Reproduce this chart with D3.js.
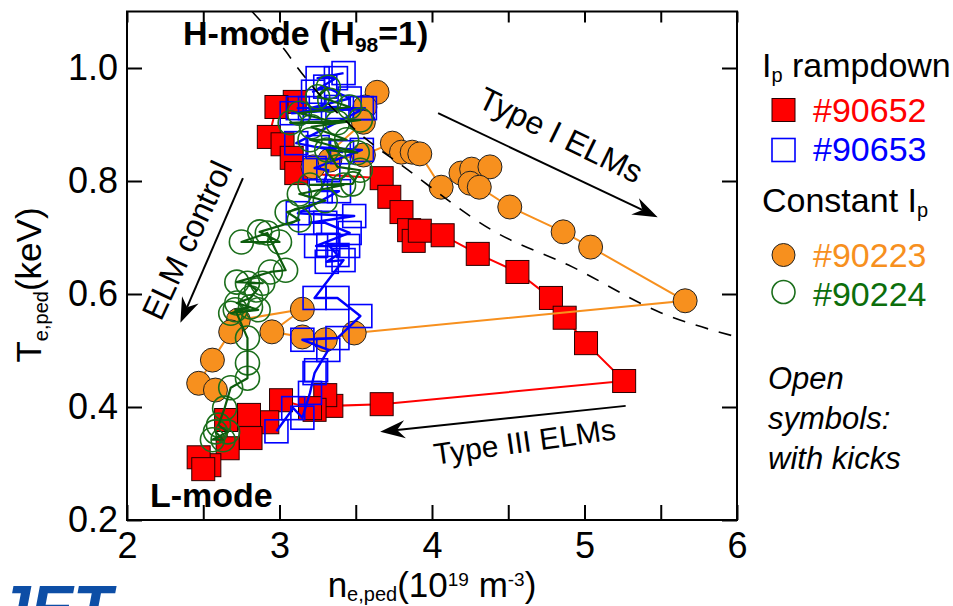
<!DOCTYPE html>
<html>
<head>
<meta charset="utf-8">
<script src="https://cdn.jsdelivr.net/npm/d3@7"></script>
<style>
html,body{margin:0;padding:0;background:#fff;}
svg{display:block;font-family:"Liberation Sans",Arial,Helvetica,sans-serif;}
</style>
</head>
<body>
<svg id="chart" width="953" height="606"></svg>
<script>
// Axis ticks
const xMajor = [2, 3, 4, 5, 6];
const xMinor = [2.5, 3.5, 4.5, 5.5];
const yTicks = [0.2, 0.4, 0.6, 0.8, 1.0];

// H98 = 1 boundary: [n_e,ped, T_e,ped]
const h98Curve = [[2.82,1.10],[3.04,1.03],[3.12,1.00],[3.50,0.89],[3.84,0.82],[4.40,0.712],[4.92,0.648],[5.50,0.567],[6.00,0.524]];

// #90652, Ip rampdown (filled squares), time ordered
const shot90652 = [
  [3.10,0.940],[2.98,0.931],[2.93,0.878],[3.02,0.865],[3.08,0.841],[3.11,0.814],
  [3.67,0.805],[3.72,0.772],[3.80,0.745],[3.85,0.713],[3.88,0.694],[3.92,0.712],[4.07,0.704],
  [4.30,0.671],[4.56,0.639],[4.78,0.593],[4.87,0.558],[5.01,0.513],[5.26,0.446],
  [3.67,0.405],[3.34,0.402],[3.30,0.421],[3.23,0.395],[3.20,0.398],[3.01,0.412],[2.92,0.373],
  [2.80,0.386],[2.81,0.345],[2.65,0.377],[2.66,0.327],[2.54,0.297],[2.47,0.311],[2.50,0.290]
];

// #90653, Ip rampdown with kicks (open squares)
const shot90653 = [
  [3.42,0.991],[3.25,0.982],[3.37,0.982],[3.22,0.958],[3.30,0.967],[3.46,0.946],[3.20,0.929],
  [3.54,0.929],[3.12,0.929],[3.38,0.931],[3.08,0.920],[3.56,0.929],[3.11,0.867],[3.41,0.851],
  [3.25,0.860],[3.54,0.855],[3.23,0.823],[3.32,0.819],
  [3.27,0.782],[3.39,0.782],[3.12,0.743],[3.49,0.738],[3.20,0.726],[3.30,0.726],[3.46,0.708],
  [3.24,0.685],[3.45,0.685],[3.32,0.687],[3.38,0.669],[3.31,0.657],[3.42,0.660],
  [3.23,0.593],[3.38,0.593],[3.53,0.561],[3.38,0.522],[3.15,0.519],[3.32,0.501],[3.24,0.465],
  [3.23,0.460],[3.20,0.425],[3.15,0.381],[3.09,0.398],[2.98,0.357]
];

// #90223, constant Ip (filled circles)
const shot90223 = [
  [3.64,0.957],[3.56,0.931],[3.55,0.904],[3.22,0.825],[3.33,0.837],[3.55,0.846],[3.74,0.867],
  [3.80,0.851],[3.87,0.851],[3.92,0.848],[4.06,0.789],[4.19,0.814],[4.26,0.821],[4.38,0.825],
  [4.25,0.796],[4.31,0.789],[4.51,0.754],[4.86,0.710],[5.04,0.683],[5.66,0.588],
  [3.49,0.531],[3.30,0.519],[3.15,0.524],[2.95,0.533],[3.15,0.573],[2.73,0.554],[2.68,0.533],
  [2.56,0.483],[2.47,0.442],[2.58,0.430]
];

// #90224, constant Ip with kicks (open circles)
const shot90224 = [
  [3.32,0.966],[3.25,0.949],[3.33,0.943],[3.46,0.931],[3.13,0.920],[3.38,0.903],[3.07,0.903],
  [3.53,0.908],[3.21,0.896],[3.44,0.873],[3.20,0.873],[3.51,0.850],[3.31,0.855],[3.38,0.825],
  [3.53,0.819],
  [3.48,0.795],[3.20,0.793],[3.42,0.793],[3.13,0.777],[3.30,0.765],[3.05,0.745],[3.13,0.731],
  [2.87,0.710],[3.00,0.692],[2.75,0.692],[2.92,0.708],[3.04,0.642],[2.94,0.639],[2.72,0.621],
  [2.89,0.619],[2.79,0.619],[2.85,0.607],[2.81,0.593],[2.72,0.584],[2.86,0.572],[2.68,0.566],
  [2.81,0.577],[2.71,0.572],
  [2.79,0.522],[2.79,0.478],[2.79,0.451],[2.68,0.434],[2.64,0.398],[2.60,0.368],[2.66,0.356],
  [2.56,0.342],[2.63,0.342],[2.58,0.356]
];

const RED = "#ff0000", BLUE = "#0000ff", ORANGE = "#f7901e", GREEN = "#1b6e1b", GREEN_LINE = "#0d5c0d";

const svg = d3.select("#chart");
const x = d3.scaleLinear().domain([2, 6]).range([127, 737]);
const y = d3.scaleLinear().domain([0.2, 1.1]).range([520, 11.5]);
const X0 = x(2), X1 = x(6), Y0 = y(1.1), Y1 = y(0.2);

svg.append("defs").append("clipPath").attr("id", "plotClip")
  .append("rect").attr("x", X0).attr("y", Y0).attr("width", X1 - X0).attr("height", Y1 - Y0);

const plot = svg.append("g").attr("clip-path", "url(#plotClip)");
const line = d3.line().x(d => x(d[0])).y(d => y(d[1]));
const SQ = 23, R = 12;

// #90652
plot.append("path").datum(shot90652).attr("d", line)
  .attr("fill", "none").attr("stroke", RED).attr("stroke-width", 2);
plot.append("g").selectAll("rect").data(shot90652).join("rect")
  .attr("x", d => x(d[0]) - SQ / 2).attr("y", d => y(d[1]) - SQ / 2)
  .attr("width", SQ).attr("height", SQ)
  .attr("fill", RED).attr("stroke", "#2a0000").attr("stroke-width", 1);

// #90223
plot.append("path").datum(shot90223).attr("d", line)
  .attr("fill", "none").attr("stroke", ORANGE).attr("stroke-width", 2);
plot.append("g").selectAll("circle").data(shot90223).join("circle")
  .attr("cx", d => x(d[0])).attr("cy", d => y(d[1])).attr("r", R)
  .attr("fill", ORANGE).attr("stroke", "#222").attr("stroke-width", 1);

// #90653
plot.append("g").selectAll("rect").data(shot90653).join("rect")
  .attr("x", d => x(d[0]) - SQ / 2).attr("y", d => y(d[1]) - SQ / 2)
  .attr("width", SQ).attr("height", SQ)
  .attr("fill", "none").attr("stroke", BLUE).attr("stroke-width", 1.6);
plot.append("path").datum(shot90653).attr("d", line)
  .attr("fill", "none").attr("stroke", BLUE).attr("stroke-width", 2.4).attr("stroke-linejoin", "round");

// #90224
plot.append("g").selectAll("circle").data(shot90224).join("circle")
  .attr("cx", d => x(d[0])).attr("cy", d => y(d[1])).attr("r", R)
  .attr("fill", "none").attr("stroke", GREEN).attr("stroke-width", 1.6);
plot.append("path").datum(shot90224).attr("d", line)
  .attr("fill", "none").attr("stroke", GREEN_LINE).attr("stroke-width", 2.2).attr("stroke-linejoin", "round");

// H98 = 1 dashed boundary
plot.append("path").datum(h98Curve)
  .attr("d", d3.line().x(d => x(d[0])).y(d => y(d[1])).curve(d3.curveMonotoneX))
  .attr("fill", "none").attr("stroke", "#000").attr("stroke-width", 1.6)
  .attr("stroke-dasharray", "13,11");

// Axes
function styleAxis(g) {
  g.select(".domain").remove();
  g.selectAll(".tick line").attr("stroke", "#000").attr("stroke-width", 2);
  g.selectAll(".tick text").attr("fill", "#000")
    .style("font-family", "'Liberation Sans',Arial,sans-serif").style("font-size", "36px");
}
svg.append("g").attr("transform", `translate(0,${Y1})`)
  .call(d3.axisBottom(x).tickValues(xMajor).tickSize(-15).tickPadding(12).tickFormat(d3.format("d")))
  .call(styleAxis);
svg.append("g").attr("transform", `translate(0,${Y1})`)
  .call(d3.axisBottom(x).tickValues(xMinor).tickSize(-15).tickFormat(""))
  .call(styleAxis);
svg.append("g").attr("transform", `translate(0,${Y0})`)
  .call(d3.axisTop(x).tickValues(xMajor.concat(xMinor)).tickSize(-11).tickFormat(""))
  .call(styleAxis);
svg.append("g").attr("transform", `translate(${X0},0)`)
  .call(d3.axisLeft(y).tickValues(yTicks).tickSize(-15).tickPadding(9).tickFormat(d3.format(".1f")))
  .call(styleAxis);
svg.append("g").attr("transform", `translate(${X1},0)`)
  .call(d3.axisRight(y).tickValues(yTicks).tickSize(-15).tickFormat(""))
  .call(styleAxis);

svg.append("rect").attr("x", X0).attr("y", Y0).attr("width", X1 - X0).attr("height", Y1 - Y0)
  .attr("fill", "none").attr("stroke", "#000").attr("stroke-width", 2);

// Text with sub/superscript parts: [text, size, dy]
function richText(g, parts, attrs) {
  const t = g.append("text");
  Object.entries(attrs).forEach(([k, v]) => t.attr(k, v));
  parts.forEach(p => {
    const s = t.append("tspan").text(p[0]).style("font-size", p[1] + "px");
    if (p[2]) s.attr("dy", p[2]);
  });
  return t;
}

// Axis titles
richText(svg, [["n",35],["e,ped",20,4],["(10",35,-4],["19",19,-11],[" m",35,11],["-3",19,-11],[")",35,11]],
  {x: 432, y: 597, "text-anchor": "middle", fill: "#000"});
richText(svg, [["T",35],["e,ped",20,7],["(keV)",35,-7]],
  {x: 0, y: 0, "text-anchor": "middle", fill: "#000", transform: "translate(41,285) rotate(-90)"});

// Regime labels
richText(svg, [["H-mode (H",34],["98",21,7],["=1)",34,-7]],
  {x: 183, y: 45, fill: "#000", "font-weight": "bold"});
richText(svg, [["L-mode",34]], {x: 150, y: 507, fill: "#000", "font-weight": "bold"});

// Annotations with arrows
function arrow(p0, p1) {
  const x0 = x(p0[0]), y0 = y(p0[1]), x1 = x(p1[0]), y1 = y(p1[1]);
  const a = Math.atan2(y1 - y0, x1 - x0), ux = Math.cos(a), uy = Math.sin(a), px = -uy, py = ux;
  const L = 25, W = 9, N = 17;
  svg.append("line").attr("x1", x0).attr("y1", y0).attr("x2", x1 - ux * N).attr("y2", y1 - uy * N)
    .attr("stroke", "#000").attr("stroke-width", 2);
  svg.append("path")
    .attr("d", `M${x1},${y1}L${x1 - ux * L + px * W},${y1 - uy * L + py * W}L${x1 - ux * N},${y1 - uy * N}L${x1 - ux * L - px * W},${y1 - uy * L - py * W}Z`)
    .attr("fill", "#000");
}
arrow([2.76, 0.805], [2.35, 0.549]);
arrow([4.04, 0.920], [5.48, 0.736]);
arrow([5.27, 0.402], [3.66, 0.356]);

richText(svg, [["ELM control",32]], {x: 0, y: 0, "text-anchor": "middle", fill: "#000", transform: "translate(197,245) rotate(-65)"});
richText(svg, [["Type I ELMs",32]], {x: 0, y: 0, "text-anchor": "middle", fill: "#000", transform: "translate(556,145) rotate(26)"});
richText(svg, [["Type III ELMs",30]], {x: 0, y: 0, "text-anchor": "middle", fill: "#000", transform: "translate(526,452) rotate(-8)"});

// Legend
const lg = svg.append("g");
richText(lg, [["I",34],["p",20,5],[" rampdown",34,-5]], {x: 762, y: 77, fill: "#000"});
lg.append("rect").attr("x", 772).attr("y", 98.5).attr("width", SQ).attr("height", SQ)
  .attr("fill", RED).attr("stroke", "#2a0000").attr("stroke-width", 1);
richText(lg, [["#90652",34]], {x: 813, y: 122, fill: RED});
lg.append("rect").attr("x", 772).attr("y", 138.5).attr("width", SQ).attr("height", SQ)
  .attr("fill", "none").attr("stroke", BLUE).attr("stroke-width", 1.6);
richText(lg, [["#90653",34]], {x: 813, y: 161, fill: BLUE});
richText(lg, [["Constant I",34],["p",20,5]], {x: 762, y: 212, fill: "#000"});
lg.append("circle").attr("cx", 783.5).attr("cy", 255).attr("r", 11.5)
  .attr("fill", ORANGE).attr("stroke", "#222").attr("stroke-width", 1);
richText(lg, [["#90223",34]], {x: 813, y: 267, fill: ORANGE});
lg.append("circle").attr("cx", 783.5).attr("cy", 292).attr("r", 11.5)
  .attr("fill", "none").attr("stroke", GREEN).attr("stroke-width", 1.6);
richText(lg, [["#90224",34]], {x: 813, y: 306, fill: "#0c6e0c"});

["Open", "symbols:", "with kicks"].forEach((s, i) => {
  lg.append("text").attr("x", 768).attr("y", 389 + i * 40).attr("fill", "#000")
    .style("font-size", "31px").style("font-style", "italic").text(s);
});

// Logo
svg.append("text").attr("x", 112).attr("y", 631).attr("text-anchor", "end")
  .attr("fill", "#0d4ea6").style("font-size", "64px").style("font-weight", "900").style("font-style", "italic")
  .text("JET");
</script>
</body>
</html>
